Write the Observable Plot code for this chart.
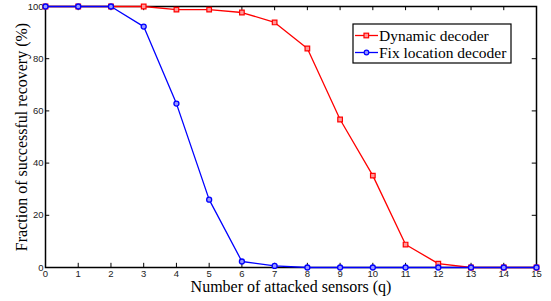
<!DOCTYPE html>
<html>
<head>
<meta charset="utf-8">
<script src="https://cdn.jsdelivr.net/npm/d3@7"></script>
<script src="https://cdn.jsdelivr.net/npm/@observablehq/plot@0.6"></script>
<style>
  body { margin: 0; background: #fff; }
  #wrap { position: relative; width: 551px; height: 301px; }
  #lgd { position: absolute; left: 352px; top: 23px; }
</style>
</head>
<body>
<div id="wrap"></div>
<script>
const q = [0,1,2,3,4,5,6,7,8,9,10,11,12,13,14,15];
const dynamicDecoder = [100,100,100,100,98.8,98.8,97.7,93.9,83.9,56.7,35.2,8.8,1.5,0,0,0];
const fixLocationDecoder = [100,100,100,92.3,62.8,26,2.3,0.6,0,0,0,0,0,0,0,0];
const xTicks = [0,1,2,3,4,5,6,7,8,9,10,11,12,13,14,15];
const yTicks = [0,20,40,60,80,100];
const seriesNames = ["Dynamic decoder", "Fix location decoder"];
const seriesColors = ["#ff0000", "#0000ff"];

const red = q.map((x, i) => ({x, y: dynamicDecoder[i]}));
const blue = q.map((x, i) => ({x, y: fixLocationDecoder[i]}));

const serif = "'Liberation Serif', 'Times New Roman', serif";
const sans = "'Liberation Sans', Arial, Helvetica, sans-serif";

const chart = Plot.plot({
  width: 551, height: 301,
  marginLeft: 45, marginRight: 15, marginTop: 6, marginBottom: 34,
  style: {fontFamily: sans, fontSize: "9.5px", color: "#222", background: "#fff"},
  x: {domain: [0, 15], ticks: xTicks},
  y: {domain: [0, 100], ticks: yTicks},
  marks: [
    Plot.axisX(xTicks, {tickSize: 0, tickPadding: 3, label: null, fontSize: 9.5}),
    Plot.axisY(yTicks, {tickSize: 0, tickPadding: 2, label: null, fontSize: 9.5}),
    Plot.ruleX(xTicks, {x: d => d, y1: 0, y2: 1.6, stroke: "#000", strokeWidth: 1}),
    Plot.ruleX(xTicks, {x: d => d, y1: 100, y2: 98.4, stroke: "#000", strokeWidth: 1}),
    Plot.ruleY(yTicks, {y: d => d, x1: 0, x2: 0.13, stroke: "#000", strokeWidth: 1}),
    Plot.ruleY(yTicks, {y: d => d, x1: 15, x2: 14.87, stroke: "#000", strokeWidth: 1}),
    Plot.frame({stroke: "#000", strokeWidth: 1.5}),
    Plot.line(red, {x: "x", y: "y", stroke: seriesColors[0], strokeWidth: 1.3}),
    Plot.dot(red, {x: "x", y: "y", symbol: "square", r: 2.6, stroke: seriesColors[0], fill: "#ff9999", strokeWidth: 1.2}),
    Plot.line(blue, {x: "x", y: "y", stroke: seriesColors[1], strokeWidth: 1.3}),
    Plot.dot(blue, {x: "x", y: "y", symbol: "circle", r: 2.5, stroke: seriesColors[1], fill: "#9999ff", strokeWidth: 1.3}),
    Plot.text(["Number of attacked sensors (q)"], {frameAnchor: "bottom", dy: 19.5, lineAnchor: "middle", fontFamily: serif, fontSize: 16, fill: "#000"}),
    Plot.text(["Fraction of successful recovery (%)"], {frameAnchor: "left", dx: -24, rotate: -90, textAnchor: "middle", lineAnchor: "middle", fontFamily: serif, fontSize: 16, fill: "#000"})
  ]
});
const wrap = document.getElementById("wrap");
wrap.appendChild(chart);

// legend as an SVG overlay
const lw = 159, lh = 40;
const lg = d3.create("svg").attr("id", "lgd").attr("width", lw + 2).attr("height", lh + 2);
lg.append("rect").attr("x", 1).attr("y", 1).attr("width", lw - 1).attr("height", lh - 1)
  .attr("fill", "#fff").attr("stroke", "#000").attr("stroke-width", 1.2);
seriesNames.forEach((name, i) => {
  const cy = i === 0 ? 12.5 : 29.5;
  lg.append("line").attr("x1", 3).attr("x2", 26).attr("y1", cy).attr("y2", cy)
    .attr("stroke", seriesColors[i]).attr("stroke-width", 1.3);
  if (i === 0) {
    lg.append("rect").attr("x", 12).attr("y", cy - 2.3).attr("width", 4.6).attr("height", 4.6)
      .attr("fill", "#ff9999").attr("stroke", seriesColors[i]).attr("stroke-width", 1.2);
  } else {
    lg.append("circle").attr("cx", 14.5).attr("cy", cy).attr("r", 2.3)
      .attr("fill", "#9999ff").attr("stroke", seriesColors[i]).attr("stroke-width", 1.2);
  }
  lg.append("text").attr("x", 27).attr("y", cy).attr("dy", "0.35em")
    .style("font-family", serif).style("font-size", "15.5px").attr("fill", "#000").text(name);
});
wrap.appendChild(lg.node());
</script>
</body>
</html>
